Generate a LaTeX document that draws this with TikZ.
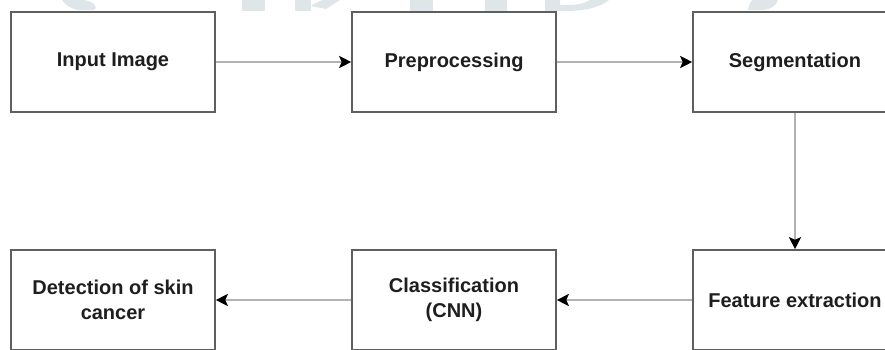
\documentclass[tikz,border=0pt]{standalone}
\usepackage{fontspec}
\setmainfont{Liberation Sans}
\usetikzlibrary{arrows.meta}
\definecolor{boxline}{RGB}{95,95,95}
\definecolor{arrline}{RGB}{178,178,178}
\definecolor{wm}{RGB}{222,230,234}
\definecolor{txt}{RGB}{30,30,30}
\begin{document}
\begin{tikzpicture}[x=1pt,y=-1pt,
  stagebox/.style={draw=boxline, line width=1.6pt, minimum width=204pt, minimum height=100pt,
    inner sep=0pt, align=center, text=txt,
    font=\fontsize{20}{25}\selectfont\bfseries},
  flow/.style={draw=arrline, line width=2.4pt,
    -{Stealth[length=12pt,width=12pt,inset=2.5pt,color=black]}}]
\useasboundingbox (0,0) rectangle (885,349);
% faint watermark remnants at the top edge
\fill[wm] (62,0) -- (84,0) .. controls (96,2) and (98,8) .. (94,10) -- (78,10) .. controls (70,8) and (64,4) .. (62,0) -- cycle;
\fill[wm] (242,0) rectangle (265,11);
\fill[wm] (295,0) rectangle (311,11);
\fill[wm] (311,6) -- (326,9) -- (340,0) -- (322,0) -- (314,4) -- cycle;
\fill[wm] (410,0) rectangle (433,11);
\fill[wm] (485,0) rectangle (507,11);
\fill[wm] (545,0) -- (545,11) -- (566,11) .. controls (588,11) and (602,6) .. (609,0) -- (590,0) .. controls (584,4) and (576,5) .. (566,5) -- (560,5) -- (560,0) -- cycle;
\fill[wm] (752,0) -- (778,0) .. controls (776,6) and (770,10) .. (760,10) -- (748,10) .. controls (749,5) and (750,2) .. (752,0) -- cycle;
% boxes
\node[stagebox] (inp) at (113,62) {Input Image};
\node[stagebox] (pre) at (454,62) {Preprocessing};
\node[stagebox] (seg) at (795,62) {Segmentation};
\node[stagebox] (fea) at (795,300) {Feature extraction};
\node[stagebox] (cla) at (454,300) {Classification\\(CNN)};
\node[stagebox] (det) at (113,300) {Detection of skin\\cancer};
% connectors
\draw[flow] (inp) -- (pre);
\draw[flow] (pre) -- (seg);
\draw[flow] (seg) -- (fea);
\draw[flow] (fea) -- (cla);
\draw[flow] (cla) -- (det);
\end{tikzpicture}
\end{document}
